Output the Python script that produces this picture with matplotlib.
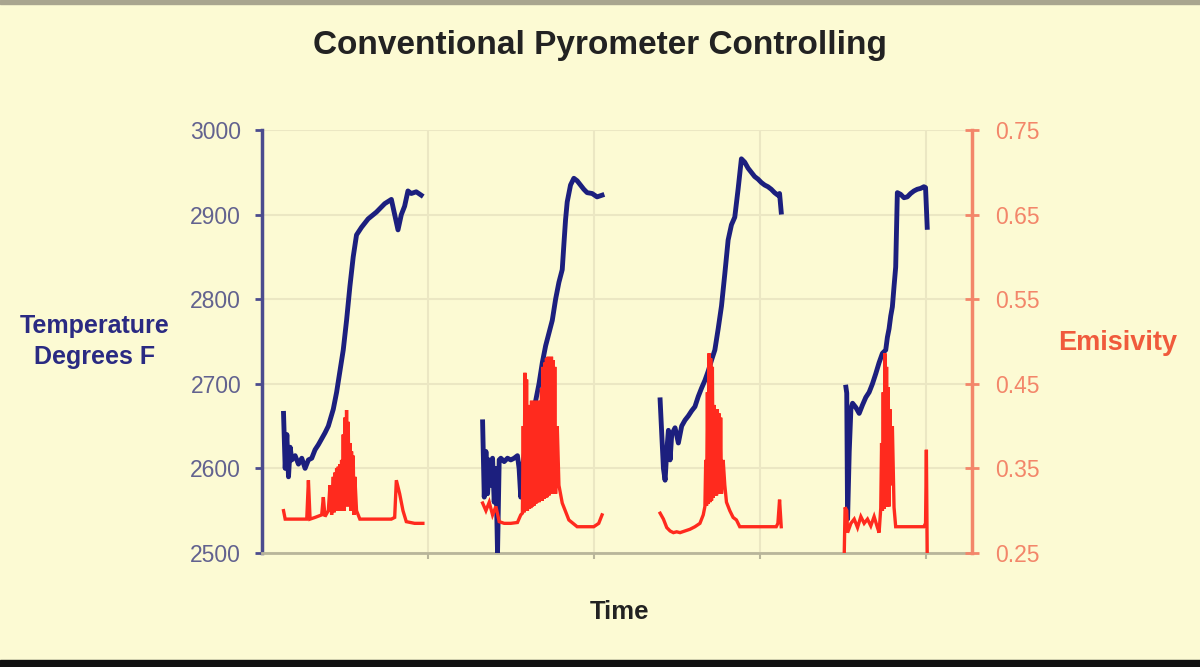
import numpy as np
import matplotlib
matplotlib.use("Agg")
import matplotlib.pyplot as plt
from matplotlib.patches import Rectangle

plt.rcParams['font.family'] = ['Liberation Sans', 'DejaVu Sans']

# four separate runs, time in arbitrary units (no labels on the time axis)
t_run1 = [13, 14, 15, 16, 17, 18, 20, 22, 24, 26, 28, 30, 32, 34, 36, 38, 40, 43, 45, 47, 49, 51, 53, 55, 57,
          60, 64, 69, 74, 78, 80, 82, 84, 86, 88, 90, 93, 96]
temp_run1 = [2665, 2600, 2640, 2590, 2625, 2610, 2615, 2605, 2612, 2600, 2610, 2612, 2622, 2628, 2635, 2642, 2650,
             2670, 2690, 2715, 2740, 2775, 2815, 2850, 2876, 2885, 2895, 2903, 2913, 2918, 2900, 2882, 2900, 2910,
             2928, 2925, 2927, 2923]

t_run2 = [133, 134, 135, 136, 137, 138, 139, 140, 141, 142, 143, 144, 146, 148, 150, 152, 154, 155, 156, 157, 159,
          161, 163, 165, 167, 169, 171, 173, 175, 177, 179, 181, 182, 183, 184, 186, 188, 190, 192, 194, 196, 199,
          202, 205]
temp_run2 = [2655, 2566, 2620, 2570, 2610, 2580, 2612, 2560, 2600, 2500, 2610, 2612, 2608, 2612, 2610, 2612, 2615,
             2600, 2566, 2600, 2630, 2650, 2665, 2680, 2700, 2725, 2745, 2760, 2775, 2800, 2820, 2835, 2865, 2894,
             2915, 2935, 2943, 2940, 2935, 2930, 2926, 2925, 2921, 2923]

t_run3 = [240, 241, 242, 243, 244, 245, 246, 247, 249, 251, 253, 255, 257, 259, 261, 263, 265, 267, 269, 271, 273,
          275, 277, 279, 281, 283, 285, 287, 289, 291, 293, 295, 297, 299, 301, 303, 305, 307, 309, 311, 312, 313]
temp_run3 = [2681, 2640, 2600, 2586, 2620, 2645, 2610, 2640, 2648, 2630, 2650, 2657, 2662, 2668, 2673, 2685, 2695,
             2704, 2715, 2728, 2740, 2765, 2792, 2830, 2870, 2888, 2897, 2930, 2966, 2962, 2955, 2950, 2945, 2942,
             2938, 2935, 2933, 2930, 2926, 2923, 2925, 2903]

t_run4 = [352, 352.5, 353, 354, 355, 356, 358, 360, 362, 364, 366, 368, 370, 372, 374, 376, 377, 378, 379, 380,
          381, 382, 383, 385, 387, 389, 391, 393, 395, 397, 399, 400, 401]
temp_run4 = [2696, 2689, 2540, 2620, 2670, 2677, 2672, 2665, 2675, 2684, 2690, 2700, 2712, 2725, 2736, 2740, 2755,
             2765, 2780, 2791, 2815, 2838, 2926, 2924, 2920, 2921, 2925, 2928, 2930, 2931, 2933, 2932, 2885]

te_run1 = [13, 14, 20, 27, 28, 29, 32, 36, 37, 38, 40, 41, 42, 43, 43.5, 44, 44.5, 45, 45.5, 46, 46.5, 47, 47.5,
           48, 48.5, 49, 49.5, 50, 50.5, 51, 51.5, 52, 52.5, 53, 53.5, 54, 54.5, 55, 55.5, 56, 57, 59, 62, 70, 78,
           80, 81, 83, 85, 87, 92, 97]
emis_run1 = [0.300, 0.290, 0.290, 0.290, 0.336, 0.290, 0.292, 0.295, 0.316, 0.293, 0.300, 0.330, 0.295, 0.340,
             0.298, 0.345, 0.300, 0.350, 0.300, 0.352, 0.300, 0.355, 0.302, 0.360, 0.300, 0.390, 0.300, 0.410,
             0.305, 0.419, 0.310, 0.405, 0.305, 0.380, 0.300, 0.370, 0.300, 0.365, 0.295, 0.340, 0.300, 0.290,
             0.290, 0.290, 0.290, 0.292, 0.336, 0.320, 0.300, 0.287, 0.285, 0.285]

te_run2 = [133, 135, 137, 139, 141, 143, 146, 150, 154, 156, 157, 157.5, 158, 158.5, 159, 159.5, 160, 160.5, 161,
           161.5, 162, 162.5, 163, 163.5, 164, 164.5, 165, 165.5, 166, 166.5, 167, 167.5, 168, 168.5, 169, 169.5,
           170, 170.5, 171, 171.5, 172, 172.5, 173, 173.5, 174, 174.5, 175, 175.5, 176, 176.5, 177, 178, 179, 181,
           185, 190, 195, 200, 203, 205]
emis_run2 = [0.309, 0.300, 0.310, 0.295, 0.305, 0.287, 0.285, 0.285, 0.286, 0.295, 0.297, 0.400, 0.298, 0.463,
             0.300, 0.455, 0.300, 0.420, 0.302, 0.425, 0.303, 0.430, 0.305, 0.428, 0.306, 0.430, 0.308, 0.425,
             0.310, 0.430, 0.310, 0.428, 0.312, 0.445, 0.312, 0.470, 0.314, 0.475, 0.315, 0.480, 0.316, 0.482,
             0.318, 0.480, 0.320, 0.482, 0.320, 0.478, 0.320, 0.470, 0.320, 0.400, 0.330, 0.309, 0.289, 0.281,
             0.281, 0.281, 0.285, 0.295]

te_run3 = [240, 242, 244, 246, 248, 250, 252, 255, 258, 261, 264, 266, 267, 267.5, 268, 268.5, 269, 269.5, 270,
           270.5, 271, 271.5, 272, 272.5, 273, 273.5, 274, 274.5, 275, 275.5, 276, 276.5, 277, 278, 279, 280, 282,
           284, 286, 288, 292, 298, 304, 310, 311, 312, 313]
emis_run3 = [0.297, 0.290, 0.280, 0.276, 0.274, 0.275, 0.274, 0.276, 0.278, 0.281, 0.285, 0.295, 0.305, 0.360,
             0.306, 0.440, 0.308, 0.486, 0.310, 0.480, 0.312, 0.470, 0.315, 0.425, 0.318, 0.420, 0.318, 0.420,
             0.320, 0.415, 0.320, 0.410, 0.320, 0.360, 0.330, 0.310, 0.300, 0.292, 0.289, 0.281, 0.281, 0.281,
             0.281, 0.281, 0.285, 0.313, 0.281]

te_run4 = [351, 351.5, 352.5, 353, 355, 357, 359, 361, 363, 365, 367, 369, 371, 372, 373, 373.5, 374, 374.5, 375,
           375.5, 376, 376.5, 377, 377.5, 378, 378.5, 379, 380, 381, 382, 385, 390, 395, 399, 400, 400.5, 401]
emis_run4 = [0.250, 0.304, 0.300, 0.274, 0.285, 0.290, 0.280, 0.293, 0.285, 0.290, 0.282, 0.293, 0.280, 0.274,
             0.303, 0.380, 0.300, 0.440, 0.302, 0.486, 0.305, 0.470, 0.305, 0.446, 0.305, 0.420, 0.330, 0.400,
             0.304, 0.281, 0.281, 0.281, 0.281, 0.281, 0.285, 0.372, 0.250]

temp_ticks = [2500, 2600, 2700, 2800, 2900, 3000]
emis_ticks = [0.25, 0.35, 0.45, 0.55, 0.65, 0.75]

bg = '#fcfad3'
navy = '#1c1f7e'
red = '#ff2a1e'
salmon = '#f3866a'

fig = plt.figure(figsize=(12, 6.67), dpi=100, facecolor=bg)
ax = fig.add_axes([0.2183, 0.171, 0.5917, 0.634], facecolor=bg)
ax2 = ax.twinx()

for tt, vv in [(t_run1, temp_run1), (t_run2, temp_run2), (t_run3, temp_run3), (t_run4, temp_run4)]:
    ax.plot(tt, vv, color=navy, lw=3.5, solid_joinstyle='round', zorder=3)
for tt, vv in [(te_run1, emis_run1), (te_run2, emis_run2), (te_run3, emis_run3), (te_run4, emis_run4)]:
    ax2.plot(tt, vv, color=red, lw=2.4, solid_joinstyle='miter', zorder=3)

ax.set_xlim(0, 428)
ax.set_ylim(2500, 3000)
ax2.set_ylim(0.25, 0.75)

ax.set_yticks(temp_ticks)
ax.set_yticklabels([str(v) for v in temp_ticks])
ax2.set_yticks(emis_ticks)
ax2.set_yticklabels(['%.2f' % v for v in emis_ticks])
ax.set_xticks([100, 200, 300, 400])
ax.set_xticklabels([])

ax.grid(True, color='#ebe7c3', lw=1.5)
ax.set_axisbelow(True)

ax.spines['top'].set_visible(False)
ax.spines['right'].set_visible(False)
ax.spines['left'].set_color('#4b4b8e')
ax.spines['left'].set_linewidth(2.5)
ax.spines['bottom'].set_color('#b8b59a')
ax.spines['bottom'].set_linewidth(2)
for s in ['top', 'left', 'bottom']:
    ax2.spines[s].set_visible(False)
ax2.spines['right'].set_color(salmon)
ax2.spines['right'].set_linewidth(2.5)

ax.tick_params(axis='y', colors='#4b4b8e', labelcolor='#62628f', length=5, width=2, labelsize=16.5, pad=10)
ax.tick_params(axis='x', colors='#b8b59a', length=4, width=1.5)
ax2.tick_params(axis='y', colors=salmon, labelcolor=salmon, direction='inout', length=10, width=2,
                labelsize=16.5, pad=12)

fig.text(0.5, 0.932, 'Conventional Pyrometer Controlling', ha='center', va='center',
         fontsize=24, fontweight='bold', color='#222222')
fig.text(0.079, 0.488, 'Temperature\nDegrees F', ha='center', va='center', fontsize=18,
         fontweight='bold', color='#2a2a82', linespacing=1.4)
fig.text(0.931, 0.486, 'Emisivity', ha='center', va='center', fontsize=19.5,
         fontweight='bold', color='#f05a3c')
fig.text(0.516, 0.082, 'Time', ha='center', va='center', fontsize=18.5, fontweight='bold', color='#222222')

# frame of the original picture
fig.patches.append(Rectangle((0, 0.994), 1, 0.006, transform=fig.transFigure, color='#a9a58f'))
fig.patches.append(Rectangle((0, 0), 1, 0.01, transform=fig.transFigure, color='#111111'))

fig.savefig('out.png', dpi=100, facecolor=bg)
